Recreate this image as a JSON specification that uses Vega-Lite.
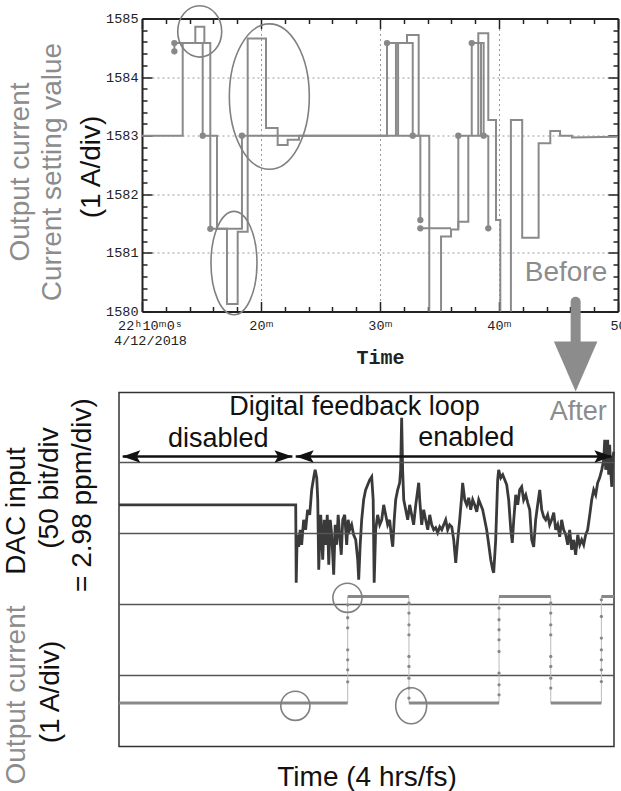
{
  "$schema": "https://vega.github.io/schema/vega-lite/v6.json",
  "padding": {"left": 1, "top": 1.5, "right": 0, "bottom": 0},
  "config": {"font": "Liberation Sans", "view": {"stroke": null}},
  "bounds": "flush",
  "spacing": 81,
  "datasets": {
    "top": [
      {"seg":1,"o":1,"t":0,"v":1583},{"seg":1,"o":2,"t":3.42,"v":1583},{"seg":1,"o":3,"t":3.42,"v":1584.58},{"seg":1,"o":4,"t":5.74,"v":1584.58},{"seg":1,"o":5,"t":5.74,"v":1581.41},{"seg":1,"o":6,"t":7.14,"v":1581.41},{"seg":1,"o":7,"t":7.14,"v":1580.13},{"seg":1,"o":8,"t":8.04,"v":1580.13},{"seg":1,"o":9,"t":8.04,"v":1581.36},{"seg":1,"o":10,"t":8.88,"v":1581.36},{"seg":1,"o":11,"t":8.88,"v":1584.66},{"seg":1,"o":12,"t":10.42,"v":1584.66},{"seg":1,"o":13,"t":10.42,"v":1583.13},{"seg":1,"o":14,"t":11.4,"v":1583.13},{"seg":1,"o":15,"t":11.4,"v":1582.84},{"seg":1,"o":16,"t":12.24,"v":1582.84},{"seg":1,"o":17,"t":12.24,"v":1582.93},{"seg":1,"o":18,"t":13.19,"v":1582.93},{"seg":1,"o":19,"t":13.19,"v":1583},{"seg":1,"o":20,"t":24.14,"v":1583},{"seg":1,"o":21,"t":24.14,"v":1579.5},
      {"seg":2,"o":1,"t":2.72,"v":1584.44},{"seg":2,"o":2,"t":2.72,"v":1584.58},{"seg":2,"o":3,"t":3.42,"v":1584.58},
      {"seg":3,"o":1,"t":4.48,"v":1584.58},{"seg":3,"o":2,"t":4.48,"v":1584.86},{"seg":3,"o":3,"t":5.24,"v":1584.86},{"seg":3,"o":4,"t":5.24,"v":1584.58},
      {"seg":4,"o":1,"t":5.1,"v":1584.58},{"seg":4,"o":2,"t":5.1,"v":1583},{"seg":4,"o":3,"t":6.3,"v":1583},{"seg":4,"o":4,"t":6.3,"v":1581.41},{"seg":4,"o":5,"t":8.4,"v":1581.41},{"seg":4,"o":6,"t":8.4,"v":1583},{"seg":4,"o":7,"t":20.59,"v":1583},{"seg":4,"o":8,"t":20.59,"v":1584.58},{"seg":4,"o":9,"t":22.75,"v":1584.58},{"seg":4,"o":10,"t":22.75,"v":1583},{"seg":4,"o":11,"t":23.39,"v":1583},{"seg":4,"o":12,"t":23.39,"v":1581.56},
      {"seg":5,"o":1,"t":21.34,"v":1583},{"seg":5,"o":2,"t":21.34,"v":1584.58},
      {"seg":6,"o":1,"t":21.52,"v":1583},{"seg":6,"o":2,"t":21.52,"v":1584.58},
      {"seg":7,"o":1,"t":22.27,"v":1584.58},{"seg":7,"o":2,"t":22.27,"v":1584.72},{"seg":7,"o":3,"t":23.25,"v":1584.72},{"seg":7,"o":4,"t":23.25,"v":1583},
      {"seg":8,"o":1,"t":23.39,"v":1581.42},{"seg":8,"o":2,"t":25.97,"v":1581.42},
      {"seg":9,"o":1,"t":25.13,"v":1579.5},{"seg":9,"o":2,"t":25.13,"v":1581.28},{"seg":9,"o":3,"t":25.97,"v":1581.28},{"seg":9,"o":4,"t":25.97,"v":1581.4},{"seg":9,"o":5,"t":26.58,"v":1581.4},{"seg":9,"o":6,"t":26.58,"v":1581.53},{"seg":9,"o":7,"t":27.42,"v":1581.53},{"seg":9,"o":8,"t":27.42,"v":1583},
      {"seg":10,"o":1,"t":26.58,"v":1581.42},{"seg":10,"o":2,"t":26.58,"v":1583},{"seg":10,"o":3,"t":29.1,"v":1583},
      {"seg":11,"o":1,"t":27.71,"v":1583},{"seg":11,"o":2,"t":27.71,"v":1584.58},{"seg":11,"o":3,"t":28.71,"v":1584.58},{"seg":11,"o":4,"t":28.71,"v":1583},
      {"seg":12,"o":1,"t":28.26,"v":1583},{"seg":12,"o":2,"t":28.26,"v":1584.75},{"seg":12,"o":3,"t":29.1,"v":1584.75},{"seg":12,"o":4,"t":29.1,"v":1583.27},{"seg":12,"o":5,"t":29.75,"v":1583.27},{"seg":12,"o":6,"t":29.75,"v":1581.56},{"seg":12,"o":7,"t":30.11,"v":1581.56},{"seg":12,"o":8,"t":30.11,"v":1579.5},
      {"seg":13,"o":1,"t":28.49,"v":1584.58},{"seg":13,"o":2,"t":28.49,"v":1583},
      {"seg":14,"o":1,"t":29.1,"v":1583},{"seg":14,"o":2,"t":29.1,"v":1581.42},
      {"seg":15,"o":1,"t":31.0,"v":1579.5},{"seg":15,"o":2,"t":31.0,"v":1583.27},{"seg":15,"o":3,"t":31.95,"v":1583.27},{"seg":15,"o":4,"t":31.95,"v":1581.26},{"seg":15,"o":5,"t":33.33,"v":1581.26},{"seg":15,"o":6,"t":33.33,"v":1582.87},{"seg":15,"o":7,"t":34.31,"v":1582.87},{"seg":15,"o":8,"t":34.31,"v":1583.08},{"seg":15,"o":9,"t":35.13,"v":1583.08},{"seg":15,"o":10,"t":35.13,"v":1583.0},{"seg":15,"o":11,"t":36.13,"v":1583.0},{"seg":15,"o":12,"t":36.13,"v":1582.97},{"seg":15,"o":13,"t":40,"v":1582.98}
    ],
    "topdots": [
      {"t":2.72,"v":1584.58},{"t":2.72,"v":1584.44},{"t":5.1,"v":1583},{"t":5.74,"v":1581.41},{"t":8.4,"v":1583},{"t":20.59,"v":1584.58},{"t":22.75,"v":1583},{"t":23.39,"v":1581.56},{"t":23.39,"v":1581.42},{"t":26.58,"v":1583},{"t":27.71,"v":1584.58},{"t":28.71,"v":1583},{"t":29.1,"v":1581.42}
    ],
    "e1": [{"t":4.85,"v":1584.78}],
    "e2": [{"t":10.7,"v":1583.667}],
    "e3": [{"t":7.73,"v":1580.826}],
    "before": [{"t":35.63,"v":1580.512,"label":"Before"}],
    "hl": [{"v":1},{"v":2},{"v":3},{"v":4}],
    "dac": [
      {"h":0,"v":3.404},{"h":1.428,"v":3.404},{"h":1.432,"v":2.306},{"h":1.44,"v":2.982},{"h":1.452,"v":2.813},{"h":1.464,"v":3.052},{"h":1.476,"v":2.841},{"h":1.492,"v":3.193},{"h":1.508,"v":3.052},{"h":1.524,"v":3.334},{"h":1.541,"v":3.263},{"h":1.557,"v":3.615},{"h":1.573,"v":3.784},{"h":1.585,"v":3.897},{"h":1.598,"v":3.784},{"h":1.606,"v":3.475},{"h":1.614,"v":2.489},{"h":1.622,"v":2.911},{"h":1.63,"v":3.263},{"h":1.646,"v":2.63},{"h":1.658,"v":3.193},{"h":1.67,"v":2.841},{"h":1.683,"v":3.263},{"h":1.695,"v":2.559},{"h":1.707,"v":3.193},{"h":1.719,"v":2.982},{"h":1.735,"v":2.419},{"h":1.747,"v":3.123},{"h":1.759,"v":2.841},{"h":1.771,"v":3.263},{"h":1.783,"v":2.982},{"h":1.796,"v":2.7},{"h":1.808,"v":3.193},{"h":1.824,"v":3.263},{"h":1.84,"v":2.841},{"h":1.852,"v":3.193},{"h":1.864,"v":3.052},{"h":1.88,"v":3.123},{"h":1.896,"v":2.982},{"h":1.913,"v":2.911},{"h":1.929,"v":2.63},{"h":1.937,"v":2.348},{"h":1.949,"v":2.841},{"h":1.961,"v":3.193},{"h":1.977,"v":3.475},{"h":1.993,"v":3.615},{"h":2.01,"v":3.686},{"h":2.026,"v":3.756},{"h":2.042,"v":3.799},{"h":2.054,"v":3.475},{"h":2.062,"v":2.306},{"h":2.074,"v":3.052},{"h":2.09,"v":3.263},{"h":2.107,"v":3.123},{"h":2.123,"v":3.193},{"h":2.139,"v":3.404},{"h":2.155,"v":3.263},{"h":2.171,"v":3.123},{"h":2.187,"v":3.193},{"h":2.204,"v":2.911},{"h":2.212,"v":2.813},{"h":2.224,"v":3.193},{"h":2.236,"v":3.475},{"h":2.252,"v":3.615},{"h":2.268,"v":3.714},{"h":2.276,"v":3.897},{"h":2.284,"v":4.63},{"h":2.292,"v":3.897},{"h":2.301,"v":3.475},{"h":2.317,"v":3.334},{"h":2.333,"v":3.193},{"h":2.349,"v":3.404},{"h":2.365,"v":3.263},{"h":2.381,"v":3.123},{"h":2.398,"v":3.404},{"h":2.414,"v":3.615},{"h":2.422,"v":3.714},{"h":2.43,"v":3.475},{"h":2.446,"v":3.123},{"h":2.462,"v":3.334},{"h":2.478,"v":3.193},{"h":2.495,"v":3.052},{"h":2.511,"v":3.263},{"h":2.527,"v":3.123},{"h":2.543,"v":3.052},{"h":2.559,"v":3.08},{"h":2.575,"v":3.01},{"h":2.592,"v":3.094},{"h":2.608,"v":3.052},{"h":2.624,"v":3.123},{"h":2.64,"v":3.193},{"h":2.656,"v":3.052},{"h":2.672,"v":3.123},{"h":2.689,"v":3.094},{"h":2.705,"v":2.911},{"h":2.721,"v":2.588},{"h":2.737,"v":2.911},{"h":2.753,"v":3.193},{"h":2.769,"v":3.517},{"h":2.777,"v":3.714},{"h":2.794,"v":3.475},{"h":2.81,"v":3.404},{"h":2.826,"v":3.503},{"h":2.842,"v":3.334},{"h":2.858,"v":3.475},{"h":2.874,"v":3.404},{"h":2.891,"v":3.306},{"h":2.907,"v":3.475},{"h":2.923,"v":3.404},{"h":2.939,"v":3.334},{"h":2.955,"v":3.193},{"h":2.971,"v":3.052},{"h":2.988,"v":2.841},{"h":3.004,"v":2.63},{"h":3.02,"v":2.489},{"h":3.028,"v":2.447},{"h":3.044,"v":2.911},{"h":3.06,"v":3.756},{"h":3.068,"v":3.897},{"h":3.085,"v":3.784},{"h":3.101,"v":3.827},{"h":3.117,"v":3.756},{"h":3.133,"v":3.686},{"h":3.149,"v":3.475},{"h":3.166,"v":3.052},{"h":3.178,"v":2.869},{"h":3.19,"v":3.193},{"h":3.206,"v":3.545},{"h":3.222,"v":3.404},{"h":3.238,"v":3.615},{"h":3.254,"v":3.658},{"h":3.27,"v":3.475},{"h":3.287,"v":3.545},{"h":3.303,"v":3.432},{"h":3.319,"v":3.334},{"h":3.335,"v":2.911},{"h":3.351,"v":2.813},{"h":3.367,"v":3.193},{"h":3.383,"v":3.404},{"h":3.4,"v":3.615},{"h":3.416,"v":3.334},{"h":3.432,"v":3.235},{"h":3.448,"v":3.193},{"h":3.464,"v":3.263},{"h":3.48,"v":3.123},{"h":3.496,"v":3.193},{"h":3.513,"v":3.292},{"h":3.529,"v":3.052},{"h":3.545,"v":3.123},{"h":3.561,"v":2.953},{"h":3.577,"v":3.193},{"h":3.593,"v":3.052},{"h":3.61,"v":2.982},{"h":3.626,"v":2.841},{"h":3.642,"v":3.052},{"h":3.658,"v":2.77},{"h":3.674,"v":2.911},{"h":3.69,"v":2.7},{"h":3.707,"v":2.982},{"h":3.723,"v":2.841},{"h":3.739,"v":2.911},{"h":3.755,"v":2.841},{"h":3.771,"v":2.982},{"h":3.787,"v":3.052},{"h":3.804,"v":3.263},{"h":3.82,"v":3.475},{"h":3.836,"v":3.615},{"h":3.852,"v":3.545},{"h":3.868,"v":3.714},{"h":3.884,"v":3.784},{"h":3.901,"v":3.897},{"h":3.917,"v":4.038},{"h":3.925,"v":4.32},{"h":3.933,"v":3.897},{"h":3.941,"v":4.108},{"h":3.949,"v":4.32},{"h":3.957,"v":3.827},{"h":3.965,"v":4.249},{"h":3.973,"v":3.897},{"h":3.982,"v":3.658},{"h":3.99,"v":4.038},{"h":3.998,"v":4.151}
    ],
    "curseg": [{"h1":0,"h2":1.848,"v":0.611},{"h1":1.848,"h2":2.343,"v":2.113},{"h1":2.343,"h2":3.071,"v":0.611},{"h1":3.071,"h2":3.489,"v":2.113},{"h1":3.489,"h2":3.898,"v":0.611},{"h1":3.898,"h2":4,"v":2.113}],
    "curvert": [{"h":1.848,"v1":0.611,"v2":2.113},{"h":2.343,"v1":0.611,"v2":2.113},{"h":3.071,"v1":0.611,"v2":2.113},{"h":3.489,"v1":0.611,"v2":2.113},{"h":3.898,"v1":0.611,"v2":2.113}],
    "curdots": [
      {"h":1.848,"v":1.996},{"h":1.848,"v":1.813},{"h":1.848,"v":1.672},{"h":1.848,"v":1.362},{"h":1.848,"v":1.221},{"h":1.848,"v":1.08},{"h":1.848,"v":0.911},
      {"h":2.343,"v":2.02},{"h":2.343,"v":1.879},{"h":2.343,"v":1.714},{"h":2.343,"v":1.573},{"h":2.343,"v":1.268},{"h":2.343,"v":1.127},{"h":2.343,"v":0.963},{"h":2.343,"v":0.823},{"h":2.343,"v":0.682},
      {"h":3.071,"v":1.949},{"h":3.071,"v":1.785},{"h":3.071,"v":1.644},{"h":3.071,"v":1.503},{"h":3.071,"v":1.338},{"h":3.071,"v":1.034},{"h":3.071,"v":0.869},{"h":3.071,"v":0.728},
      {"h":3.489,"v":2.02},{"h":3.489,"v":1.879},{"h":3.489,"v":1.714},{"h":3.489,"v":1.573},{"h":3.489,"v":1.268},{"h":3.489,"v":1.127},{"h":3.489,"v":0.963},{"h":3.489,"v":0.823},
      {"h":3.898,"v":2.066},{"h":3.898,"v":1.831},{"h":3.898,"v":1.527},{"h":3.898,"v":1.362},{"h":3.898,"v":1.221},{"h":3.898,"v":1.08},{"h":3.898,"v":0.915}
    ],
    "arrows": [{"h1":0.03,"h2":1.401,"v":4.085},{"h1":1.428,"h2":3.979,"v":4.085}],
    "heads": [{"h":0.1,"v":4.085,"dir":"left"},{"h":1.329,"v":4.085,"dir":"right"},{"h":1.501,"v":4.085,"dir":"left"},{"h":3.914,"v":4.085,"dir":"right"}],
    "rings": [{"h":1.425,"v":0.573},{"h":1.846,"v":2.094}],
    "ring3": [{"h":2.361,"v":0.573}],
    "btext": [{"h":1.903,"v":4.672,"label":"Digital feedback loop"},{"h":0.802,"v":4.225,"label":"disabled"},{"h":2.806,"v":4.235,"label":"enabled"}],
    "after": [{"h":3.711,"v":4.601,"label":"After"}],
    "garrow": [{"h":3.69,"v1":5.658,"v2":6.263}],
    "ghead": [{"h":3.69,"v":5.352}]
  },
  "vconcat": [
    {
      "width": 499,
      "height": 293,
      "resolve": {"axis": {"x": "independent", "y": "independent"}},
      "layer": [
        {
          "data": {"name": "top"},
          "mark": {"type": "line", "color": "#8a8a8a", "strokeWidth": 2, "clip": true},
          "encoding": {
            "x": {"field": "t", "type": "quantitative",
              "scale": {"domain": [0, 40], "range": [23, 499], "nice": false, "zero": false},
              "axis": {"orient": "bottom", "values": [0,2,4,6,8,10,12,14,16,18,20,22,24,26,28,30,32,34,36,38,40],
                "labelExpr": "datum.value === 0 ? ['22ʰ10ᵐ0ˢ', '4/12/2018'] : datum.value === 40 ? '50' : datum.value % 10 === 0 ? (datum.value + 10) + 'ᵐ' : ''",
                "labelFont": "Liberation Mono", "labelFontSize": 13.5, "labelColor": "#222", "labelPadding": 17, "labelLineHeight": 15,
                "labelOffset": {"condition": {"test": "datum.value === 0", "value": 8}, "value": 0},
                "labelOverlap": false, "labelFlush": false, "labelBound": false,
                "tickSize": {"condition": {"test": "datum.value % 10 === 0", "value": -10}, "value": -5},
                "tickColor": "#222", "tickWidth": 1.5, "domainColor": "#222", "domainWidth": 2,
                "grid": true, "gridDash": [2, 3], "gridColor": "#999", "gridWidth": 1,
                "gridOpacity": {"condition": {"test": "datum.value % 10 === 0 && datum.value > 0 && datum.value < 40", "value": 1}, "value": 0},
                "title": "Time", "titleFont": "Liberation Mono", "titleFontSize": 20, "titleFontWeight": "bold", "titleColor": "#222", "titlePadding": 0}},
            "y": {"field": "v", "type": "quantitative",
              "scale": {"domain": [1580, 1585], "nice": false, "zero": false},
              "axis": {"orient": "left", "offset": -23,
                "values": [1580,1580.2,1580.4,1580.6,1580.8,1581,1581.2,1581.4,1581.6,1581.8,1582,1582.2,1582.4,1582.6,1582.8,1583,1583.2,1583.4,1583.6,1583.8,1584,1584.2,1584.4,1584.6,1584.8,1585],
                "labelExpr": "datum.value % 1 === 0 ? '' + datum.value : ''",
                "labelFont": "Liberation Mono", "labelFontSize": 13.5, "labelColor": "#222", "labelPadding": 14,
                "labelOverlap": false, "labelFlush": false, "labelBound": false,
                "tickSize": {"condition": {"test": "datum.value % 1 === 0", "value": -10}, "value": -5},
                "tickColor": "#222", "tickWidth": 1.5, "domainColor": "#222", "domainWidth": 2,
                "grid": true, "gridDash": [2, 3], "gridColor": "#999", "gridWidth": 1,
                "gridOpacity": {"condition": {"test": "datum.value % 1 === 0 && datum.value > 1580 && datum.value < 1585", "value": 1}, "value": 0},
                "title": "(1 A/div)", "titleFont": "Liberation Sans", "titleFontSize": 28, "titleFontWeight": "normal", "titleColor": "#111",
                "titleX": -43, "titleY": 148, "titleAngle": -90, "titleBaseline": "alphabetic", "titleAlign": "center"}},
            "detail": {"field": "seg"},
            "order": {"field": "o"}
          }
        },
        {
          "data": {"name": "topdots"},
          "mark": {"type": "point", "filled": true, "color": "#888", "size": 40, "opacity": 1},
          "encoding": {
            "x": {"field": "t", "type": "quantitative",
              "axis": {"orient": "top", "values": [0,2,4,6,8,10,12,14,16,18,20,22,24,26,28,30,32,34,36,38,40], "labels": false,
                "tickSize": {"condition": {"test": "datum.value % 10 === 0", "value": -10}, "value": -5},
                "tickColor": "#222", "tickWidth": 1.5, "domainColor": "#222", "domainWidth": 2, "grid": false, "title": null}},
            "y": {"field": "v", "type": "quantitative",
              "axis": {"orient": "right", "values": [1580,1580.2,1580.4,1580.6,1580.8,1581,1581.2,1581.4,1581.6,1581.8,1582,1582.2,1582.4,1582.6,1582.8,1583,1583.2,1583.4,1583.6,1583.8,1584,1584.2,1584.4,1584.6,1584.8,1585], "labels": false,
                "tickSize": {"condition": {"test": "datum.value % 1 === 0", "value": -10}, "value": -5},
                "tickColor": "#222", "tickWidth": 1.5, "domainColor": "#222", "domainWidth": 2, "grid": false, "title": null}}
          }
        },
        {
          "data": {"name": "e2"},
          "mark": {"type": "point", "shape": "M0,-1A0.55,1 0 1,1 0,1A0.55,1 0 1,1 0,-1Z", "size": 21137, "filled": false, "stroke": "#808080", "strokeWidth": 1.6, "opacity": 1},
          "encoding": {
            "x": {"field": "t", "type": "quantitative", "axis": null},
            "y": {"field": "v", "type": "quantitative",
              "axis": {"orient": "left", "offset": -23, "ticks": false, "labels": false, "domain": false, "grid": false,
                "title": ["Output current", "Current setting value"], "titleColor": "#8c8c8c", "titleFont": "Liberation Sans", "titleFontSize": 28, "titleFontWeight": "normal",
                "titleX": -114, "titleY": 153, "titleAngle": -90, "titleBaseline": "alphabetic", "titleAlign": "center", "titleLineHeight": 32}}
          }
        },
        {
          "data": {"name": "e1"},
          "mark": {"type": "point", "shape": "M0,-1A0.856,1 0 1,1 0,1A0.856,1 0 1,1 0,-1Z", "size": 2642, "filled": false, "stroke": "#808080", "strokeWidth": 1.6, "opacity": 1},
          "encoding": {
            "x": {"field": "t", "type": "quantitative", "axis": null},
            "y": {"field": "v", "type": "quantitative", "axis": null}
          }
        },
        {
          "data": {"name": "e3"},
          "mark": {"type": "point", "shape": "M0,-1A0.445,1 0 1,1 0,1A0.445,1 0 1,1 0,-1Z", "size": 10692, "filled": false, "stroke": "#808080", "strokeWidth": 1.6, "opacity": 1},
          "encoding": {
            "x": {"field": "t", "type": "quantitative", "axis": null},
            "y": {"field": "v", "type": "quantitative", "axis": null}
          }
        },
        {
          "data": {"name": "before"},
          "mark": {"type": "text", "font": "Liberation Sans", "fontSize": 28, "color": "#8c8c8c", "align": "center", "baseline": "alphabetic"},
          "encoding": {
            "x": {"field": "t", "type": "quantitative", "axis": null},
            "y": {"field": "v", "type": "quantitative", "axis": null},
            "text": {"field": "label"}
          }
        }
      ]
    },
    {
      "width": 495,
      "height": 354,
      "view": {"stroke": "#333", "strokeWidth": 1.5},
      "resolve": {"axis": {"x": "independent", "y": "independent"}},
      "layer": [
        {
          "data": {"name": "dac"},
          "mark": {"type": "line", "color": "#3a3a3a", "strokeWidth": 2.8},
          "encoding": {
            "x": {"field": "h", "type": "quantitative", "scale": {"domain": [0, 4], "nice": false, "zero": false},
              "axis": {"orient": "bottom", "labels": false, "ticks": false, "domain": false, "grid": false,
                "title": "Time (4 hrs/fs)", "titleFont": "Liberation Sans", "titleFontSize": 28, "titleFontWeight": "normal", "titleColor": "#111", "titlePadding": 17}},
            "y": {"field": "v", "type": "quantitative", "scale": {"domain": [0, 4.986], "nice": false, "zero": false},
              "axis": {"orient": "left", "labels": false, "ticks": false, "domain": false, "grid": false,
                "title": "DAC input", "titleColor": "#111", "titleFont": "Liberation Sans", "titleFontSize": 28, "titleFontWeight": "normal",
                "titleX": -95, "titleY": 118, "titleAngle": -90, "titleBaseline": "alphabetic", "titleAlign": "center"}}
          }
        },
        {
          "data": {"name": "hl"},
          "mark": {"type": "rule", "color": "#555", "strokeWidth": 1.3},
          "encoding": {
            "y": {"field": "v", "type": "quantitative",
              "axis": {"orient": "left", "labels": false, "ticks": false, "domain": false, "grid": false,
                "title": "Output current", "titleColor": "#8c8c8c", "titleFont": "Liberation Sans", "titleFontSize": 28, "titleFontWeight": "normal",
                "titleX": -95, "titleY": 302, "titleAngle": -90, "titleBaseline": "alphabetic", "titleAlign": "center"}},
            "x": {"datum": 0, "type": "quantitative", "axis": null},
            "x2": {"datum": 4}
          }
        },
        {
          "data": {"name": "curvert"},
          "mark": {"type": "rule", "color": "#bbb", "strokeWidth": 1},
          "encoding": {
            "x": {"field": "h", "type": "quantitative", "axis": null},
            "y": {"field": "v1", "type": "quantitative",
              "axis": {"orient": "left", "labels": false, "ticks": false, "domain": false, "grid": false,
                "title": "(1 A/div)", "titleColor": "#111", "titleFont": "Liberation Sans", "titleFontSize": 28, "titleFontWeight": "normal",
                "titleX": -61, "titleY": 299, "titleAngle": -90, "titleBaseline": "alphabetic", "titleAlign": "center"}},
            "y2": {"field": "v2"}
          }
        },
        {
          "data": {"name": "curseg"},
          "mark": {"type": "rule", "color": "#888", "strokeWidth": 3},
          "encoding": {
            "x": {"field": "h1", "type": "quantitative", "axis": null},
            "x2": {"field": "h2"},
            "y": {"field": "v", "type": "quantitative", "axis": null}
          }
        },
        {
          "data": {"name": "curdots"},
          "mark": {"type": "circle", "color": "#888", "size": 11, "opacity": 1},
          "encoding": {
            "x": {"field": "h", "type": "quantitative", "axis": null},
            "y": {"field": "v", "type": "quantitative", "axis": null}
          }
        },
        {
          "data": {"name": "arrows"},
          "mark": {"type": "rule", "color": "#111", "strokeWidth": 2.5},
          "encoding": {
            "x": {"field": "h1", "type": "quantitative", "axis": null},
            "x2": {"field": "h2"},
            "y": {"field": "v", "type": "quantitative",
              "axis": {"orient": "left", "labels": false, "ticks": false, "domain": false, "grid": false,
                "title": "(50 bit/div", "titleColor": "#111", "titleFont": "Liberation Sans", "titleFontSize": 28, "titleFontWeight": "normal",
                "titleX": -62, "titleY": 95, "titleAngle": -90, "titleBaseline": "alphabetic", "titleAlign": "center"}}
          }
        },
        {
          "data": {"name": "heads"},
          "mark": {"type": "point", "filled": true, "color": "#111", "size": 324, "opacity": 1},
          "encoding": {
            "x": {"field": "h", "type": "quantitative", "axis": null},
            "y": {"field": "v", "type": "quantitative", "axis": null},
            "shape": {"field": "dir", "type": "nominal", "legend": null,
              "scale": {"domain": ["left", "right"], "range": ["M1,-0.7L-1,0L1,0.7L0.6,0Z", "M-1,-0.7L1,0L-1,0.7L-0.6,0Z"]}}
          }
        },
        {
          "data": {"name": "rings"},
          "mark": {"type": "point", "shape": "circle", "size": 850, "filled": false, "stroke": "#808080", "strokeWidth": 1.6, "opacity": 1},
          "encoding": {
            "x": {"field": "h", "type": "quantitative", "axis": null},
            "y": {"field": "v", "type": "quantitative", "axis": null}
          }
        },
        {
          "data": {"name": "ring3"},
          "mark": {"type": "point", "shape": "M0,-1A0.86,1 0 1,1 0,1A0.86,1 0 1,1 0,-1Z", "size": 1296, "filled": false, "stroke": "#808080", "strokeWidth": 1.6, "opacity": 1},
          "encoding": {
            "x": {"field": "h", "type": "quantitative", "axis": null},
            "y": {"field": "v", "type": "quantitative", "axis": null}
          }
        },
        {
          "data": {"name": "btext"},
          "mark": {"type": "text", "font": "Liberation Sans", "fontSize": 27, "color": "#111", "align": "center", "baseline": "alphabetic"},
          "encoding": {
            "x": {"field": "h", "type": "quantitative", "axis": null},
            "y": {"field": "v", "type": "quantitative",
              "axis": {"orient": "left", "labels": false, "ticks": false, "domain": false, "grid": false,
                "title": "= 2.98 ppm/div)", "titleColor": "#111", "titleFont": "Liberation Sans", "titleFontSize": 28, "titleFontWeight": "normal",
                "titleX": -29, "titleY": 102, "titleAngle": -90, "titleBaseline": "alphabetic", "titleAlign": "center"}},
            "text": {"field": "label"}
          }
        },
        {
          "data": {"name": "after"},
          "mark": {"type": "text", "font": "Liberation Sans", "fontSize": 27, "color": "#8c8c8c", "align": "center", "baseline": "alphabetic"},
          "encoding": {
            "x": {"field": "h", "type": "quantitative", "axis": null},
            "y": {"field": "v", "type": "quantitative", "axis": null},
            "text": {"field": "label"}
          }
        },
        {
          "data": {"name": "garrow"},
          "mark": {"type": "rule", "color": "#8c8c8c", "strokeWidth": 10, "strokeCap": "round", "clip": false},
          "encoding": {
            "x": {"field": "h", "type": "quantitative", "axis": null},
            "y": {"field": "v1", "type": "quantitative", "axis": null},
            "y2": {"field": "v2"}
          }
        },
        {
          "data": {"name": "ghead"},
          "mark": {"type": "point", "shape": "M-0.87,-1L0.87,-1L0,1Z", "size": 2500, "filled": true, "color": "#8c8c8c", "opacity": 1, "clip": false},
          "encoding": {
            "x": {"field": "h", "type": "quantitative", "axis": null},
            "y": {"field": "v", "type": "quantitative", "axis": null}
          }
        }
      ]
    }
  ]
}
